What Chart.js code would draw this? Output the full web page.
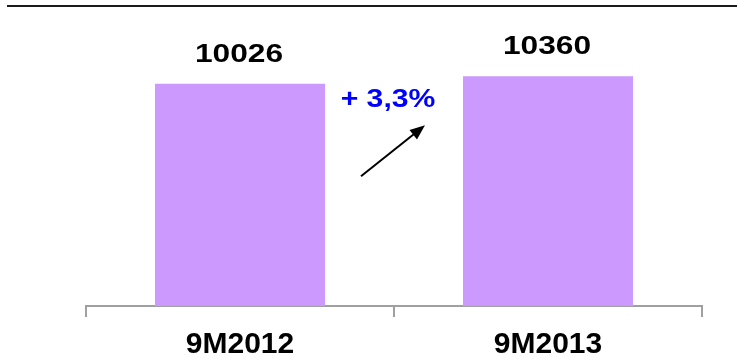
<!DOCTYPE html>
<html>
<head>
<meta charset="utf-8">
<script src="https://cdn.jsdelivr.net/npm/chart.js@4"></script>
<style>
  body { margin: 0; background: #fff; }
  #wrap { width: 738px; height: 359px; position: relative; }
</style>
</head>
<body>
<div id="wrap"><canvas id="canvas-bar-chart"></canvas></div>
<script>
// data
const periods = ['9M2012', '9M2013'];
const revenue = [10026, 10360];
const growthLabel = '+ 3,3%';

const lilac = '#cc99ff';

// value labels above bars, stretched a little like the original
const valueLabels = {
  id: 'valueLabels',
  afterDatasetsDraw(chart) {
    const ctx = chart.ctx;
    const meta = chart.getDatasetMeta(0);
    ctx.save();
    ctx.fillStyle = '#000';
    ctx.font = 'bold 26px "Liberation Sans", Arial, sans-serif';
    ctx.textAlign = 'center';
    ctx.textBaseline = 'alphabetic';
    meta.data.forEach((bar, i) => {
      ctx.save();
      ctx.translate(bar.x - 1, bar.y - 22);
      ctx.scale(1.22, 1);
      ctx.fillText(String(revenue[i]), 0, 0);
      ctx.restore();
    });
    ctx.restore();
  }
};

// growth text + arrow between the bars, and the rule at the top
const extras = {
  id: 'extras',
  afterDraw(chart) {
    const ctx = chart.ctx;
    const x = chart.scales.x;
    const y = chart.scales.y;
    const mid = x.getPixelForValue(0.5);

    // top rule
    ctx.save();
    ctx.strokeStyle = '#1a1a1a';
    ctx.lineWidth = 2;
    ctx.beginPath();
    ctx.moveTo(7, 6);
    ctx.lineTo(737, 6);
    ctx.stroke();

    // growth text
    ctx.fillStyle = '#0000ff';
    ctx.font = 'bold 26px "Liberation Sans", Arial, sans-serif';
    ctx.textAlign = 'center';
    ctx.translate(mid - 6, y.getPixelForValue(9000));
    ctx.scale(1.16, 1);
    ctx.fillText(growthLabel, 0, 0);
    ctx.restore();

    // arrow
    const x0 = mid - 33, y0 = y.getPixelForValue(5850);
    const x1 = mid + 31, y1 = y.getPixelForValue(8150);
    const ang = Math.atan2(y1 - y0, x1 - x0);
    const head = 15, half = 6;
    ctx.save();
    ctx.strokeStyle = '#000';
    ctx.fillStyle = '#000';
    ctx.lineWidth = 2;
    ctx.beginPath();
    ctx.moveTo(x0, y0);
    ctx.lineTo(x1 - Math.cos(ang) * head * 0.8, y1 - Math.sin(ang) * head * 0.8);
    ctx.stroke();
    ctx.beginPath();
    ctx.moveTo(x1, y1);
    ctx.lineTo(x1 - Math.cos(ang) * head - Math.sin(ang) * half, y1 - Math.sin(ang) * head + Math.cos(ang) * half);
    ctx.lineTo(x1 - Math.cos(ang) * head + Math.sin(ang) * half, y1 - Math.sin(ang) * head - Math.cos(ang) * half);
    ctx.closePath();
    ctx.fill();
    ctx.restore();
  }
};

const ctx = document.getElementById('canvas-bar-chart');
const graph = new Chart(ctx, {
  type: 'bar',
  data: {
    labels: periods,
    datasets: [{
      data: revenue,
      backgroundColor: lilac,
      borderWidth: 0,
      barPercentage: 0.552,
      categoryPercentage: 1,
    }],
  },
  options: {
    responsive: true,
    maintainAspectRatio: false,
    animation: false,
    layout: { padding: { left: 86, right: 36, top: 40, bottom: -14 } },
    plugins: {
      legend: { display: false },
      tooltip: { enabled: false },
    },
    scales: {
      x: {
        grid: {
          display: true,
          offset: true,
          drawOnChartArea: false,
          drawTicks: true,
          tickLength: 11,
          color: '#a0a0a0',
          lineWidth: 2,
        },
        border: { display: true, color: '#a0a0a0', width: 2 },
        ticks: {
          color: '#000',
          padding: 10,
          font: { family: '"Liberation Sans", Arial, sans-serif', size: 30, weight: 'bold' },
        },
      },
      y: {
        display: false,
        min: 0,
        max: 12000,
      },
    },
  },
  plugins: [valueLabels, extras],
});
</script>
</body>
</html>
